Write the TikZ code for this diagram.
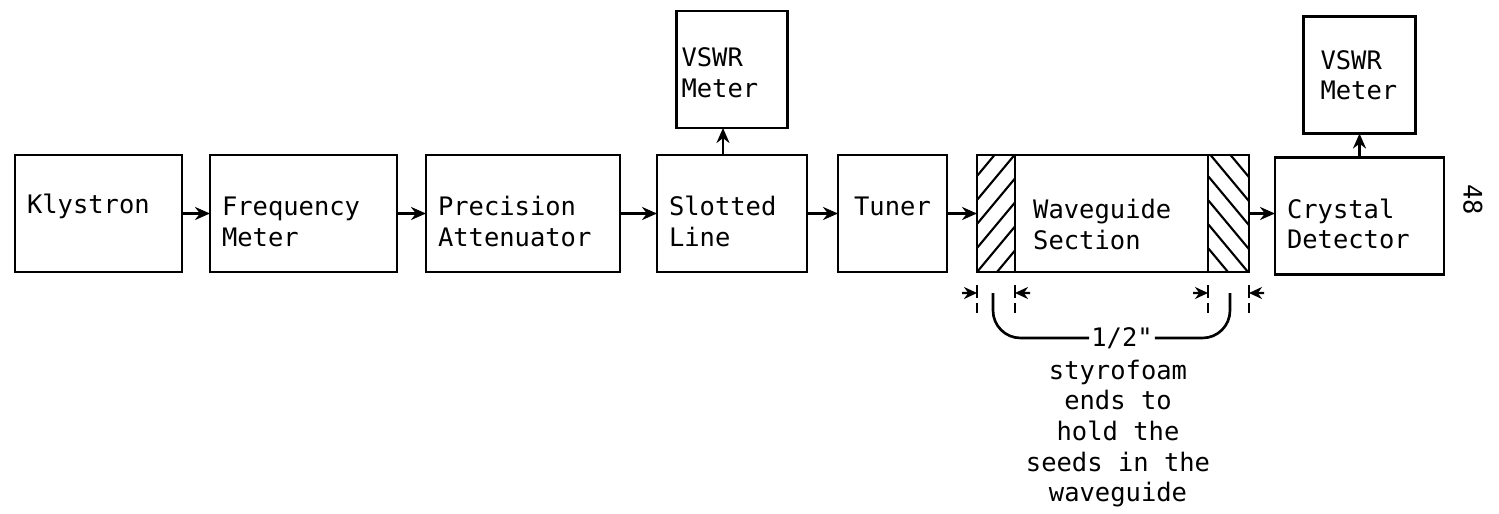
\documentclass[tikz,border=0pt]{standalone}
\usepackage{fontspec}
\setmonofont{DejaVu Sans Mono}
\usetikzlibrary{arrows.meta,positioning,calc}

\newcommand{\dn}{\rule{0pt}{0.7cm}}

\tikzset{
    blk/.style={draw, line width=1.5pt, minimum height=2.34cm, align=left,
        inner xsep=0.24cm, outer sep=0pt, text width=#1},
    flow/.style={line width=1.5pt, -{Stealth[length=0.3cm,width=0.26cm]}},
    dimln/.style={line width=1.1pt, dash pattern=on 0.26cm off 0.1cm},
    dimarr/.style={line width=1.4pt, -{Stealth[length=0.26cm,width=0.24cm]}},
    hatch/.style={line width=1.2pt},
}

\begin{document}
\begin{tikzpicture}[
    every node/.style={font=\ttfamily\fontsize{14.5}{17.3}\selectfont},
]
\useasboundingbox (0,0) rectangle (29.98,-10.28);

% main chain
\node[blk=2.86cm, text depth=0.38cm, anchor=west] (klys) at (0.30,-4.27) {Klystron};
\node[blk=3.26cm, right=0.56cm of klys] (freq) {\dn Frequency\\Meter};
\node[blk=3.40cm, right=0.58cm of freq] (atten) {\dn Precision\\Attenuator};
\node[blk=2.52cm, right=0.74cm of atten] (slot) {\dn Slotted\\Line};
\node[blk=1.70cm, align=center, text depth=0.3cm, right=0.62cm of slot] (tuner) {Tuner};
\node[blk=4.96cm, right=0.60cm of tuner] (wave) {};
\node[blk=2.90cm, right=0.52cm of wave, yshift=-0.05cm] (cryst) {\dn Crystal\\Detector};

% meters
\node[blk=2.02cm, inner xsep=0.10cm, above=0.54cm of slot] (vswrA) {\rule{0pt}{0.5cm}VSWR\\Meter};
\node[blk=1.56cm, inner xsep=0.34cm, above=0.48cm of cryst] (vswrB) {VSWR\\Meter};

% waveguide with styrofoam ends
\coordinate (d1) at (wave.south west);
\coordinate (d2) at ($(wave.south west)+(0.76,0)$);
\coordinate (d3) at ($(wave.south east)+(-0.82,0)$);
\coordinate (d4) at (wave.south east);
\draw[line width=1.5pt] (d2) -- (d2 |- wave.north);
\draw[line width=1.5pt] (d3) -- (d3 |- wave.north);
\begin{scope}
    \clip (d1) rectangle (d2 |- wave.north);
    \foreach \k in {-2,...,6}
        \draw[hatch] ($(d1)+(0,\k*0.48)$) -- ++(2,2.4);
\end{scope}
\begin{scope}
    \clip (d3) rectangle (wave.north east);
    \foreach \k in {-1,...,7}
        \draw[hatch] ($(d3)+(0,\k*0.48)$) -- ++(2,-2.4);
\end{scope}
\node[anchor=west, align=left] (wavelbl) at ($(wave.west)+(1.0,-0.22)$) {Waveguide\\Section};

% connectors
\draw[flow] (klys) -- (freq);
\draw[flow] (freq) -- (atten);
\draw[flow] (atten) -- (slot);
\draw[flow] (slot) -- (tuner);
\draw[flow] (tuner) -- (wave);
\draw[flow] (wave.east) -- (wave.east -| cryst.west);
\draw[flow] ([xshift=-0.18cm]slot.north) -- ([xshift=-0.18cm]vswrA.south);
\draw[flow] (cryst) -- (vswrB);

% styrofoam thickness marks
\foreach \c in {d1,d2,d3,d4}
    \draw[dimln] ([yshift=-0.26cm]\c) -- ([yshift=-0.82cm]\c);
\draw[dimarr] ([shift={(-0.30,-0.42)}]d1) -- ([yshift=-0.42cm]d1);
\draw[dimarr] ([shift={(0.30,-0.42)}]d2) -- ([yshift=-0.42cm]d2);
\draw[dimarr] ([shift={(-0.30,-0.42)}]d3) -- ([yshift=-0.42cm]d3);
\draw[dimarr] ([shift={(0.30,-0.42)}]d4) -- ([yshift=-0.42cm]d4);

\coordinate (bl) at ($(d1)+(0.32,-0.42)$);
\coordinate (br) at ($(d4)+(-0.38,-0.42)$);
\node[inner sep=1pt] (half) at ($(wave.south)+(0.18,-1.32)$) {1/2"};
\draw[line width=1.5pt, rounded corners=0.55cm] (bl) |- (half.west);
\draw[line width=1.5pt, rounded corners=0.55cm] (half.east) -| (br);
\node[align=center, anchor=north, font=\ttfamily\fontsize{14.5}{17.4}\selectfont,
    text depth=0pt] (note) at ($(half.south)+(-0.08,-0.06)$)
    {styrofoam\\ends to\\hold the\\seeds in the\\waveguide};

% page number
\node[rotate=-90] (pgno) at (29.46,-4.0) {48};
\end{tikzpicture}
\end{document}
